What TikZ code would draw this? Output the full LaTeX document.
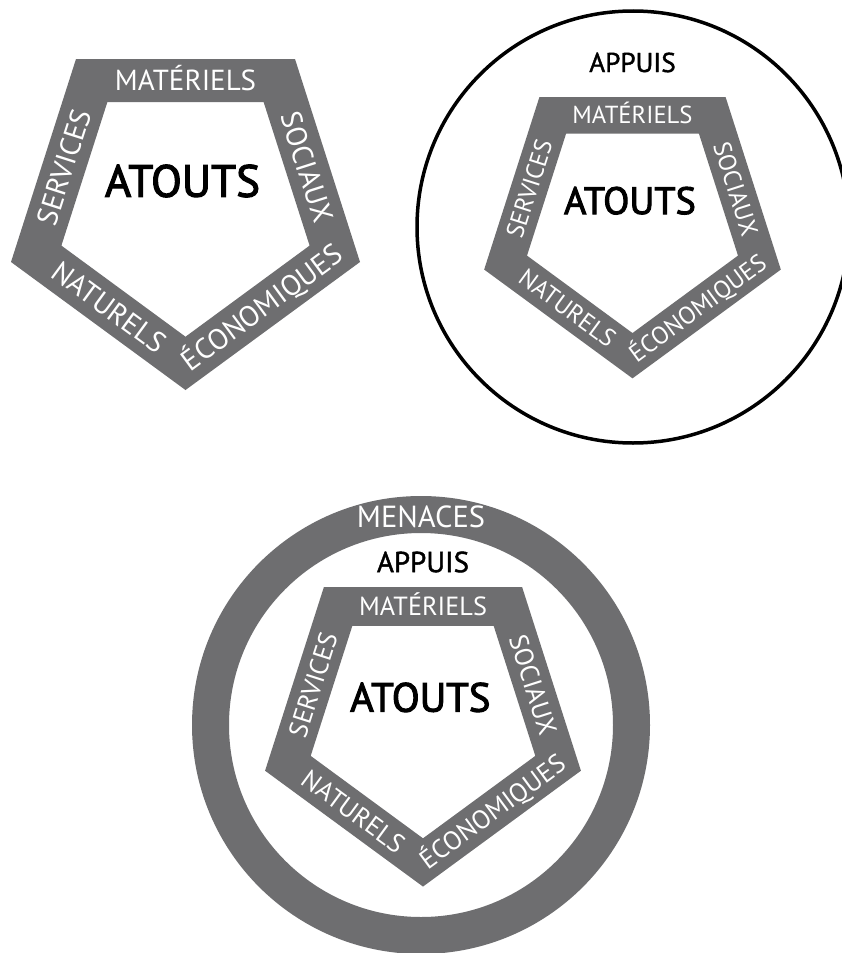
\documentclass[tikz,border=0pt]{standalone}
\usepackage{fontspec}
\setmainfont{PT Sans}
\newfontfamily\atoutsfont[FakeBold=2.5]{PT Sans}
\newfontfamily\appuisfont[FakeBold=1.5]{PT Sans}
\definecolor{band}{RGB}{110,110,112}
\tikzset{
  lbl/.style={text=white, font=\fontsize{29}{29}\selectfont, text height=20.3pt, text depth=0pt, inner sep=0pt},
  bigtxt/.style={text=black, font=\atoutsfont\fontsize{45}{45}\selectfont, text height=31.5pt, text depth=0pt, inner sep=0pt},
  midtxt/.style={text=black, font=\appuisfont\fontsize{32}{32}\selectfont, text height=22.4pt, text depth=0pt, inner sep=0pt},
  pentband/.style={fill=band, even odd rule},
}
\newcommand\atoutspent[1]{%
  \fill[pentband] (-109.5,0) -- (109.5,0) -- (174.5,203) -- (0,331) -- (-174.5,203) -- cycle
     (-78.1,43) -- (78.1,43) -- (124.1,186.6) -- (0,277.7) -- (-124.1,186.6) -- cycle;
  \node[lbl] (#1mat) at (0,21.5) {MATÉRIELS};
  \node[lbl,rotate=72.25] (#1ser) at (-121.55,108.15) {SERVICES};
  \node[lbl,rotate=-72.25] (#1soc) at (121.55,108.15) {SOCIAUX};
  \node[lbl,rotate=-36.26] (#1nat) at (-76.5,248.2) {NATURELS};
  \node[lbl,rotate=36.26] (#1eco) at (76.5,248.2) {ÉCONOMIQUES};
  \node[bigtxt] (#1atouts) at (-3,122) {ATOUTS};
}
\begin{document}
\begin{tikzpicture}[x=1pt,y=-1pt]
  \fill[white] (0,0) rectangle (841,953);
  \useasboundingbox (0,0) rectangle (841,953);
  % first pentagon
  \begin{scope}[shift={(185.5,59)}]
    \atoutspent{a}
  \end{scope}
  % second: circle + pentagon
  \draw[line width=3.5pt] (633,227) circle[radius=216];
  \begin{scope}[shift={(632.5,97)},scale=0.85,transform shape]
    \atoutspent{b}
    \node[midtxt] (bappuis) at (0,-40.6) {APPUIS};
  \end{scope}
  % third: ring + pentagon
  \draw[band,line width=37pt] (421,725) circle[radius=210.5];
  \node[lbl,font=\fontsize{30.5}{30.5}\selectfont] (menaces) at (421,517) {MENACES};
  \begin{scope}[shift={(423,587)},scale=0.905,transform shape]
    \atoutspent{c}
    \node[midtxt] (cappuis) at (0,-27.6) {APPUIS};
  \end{scope}
\end{tikzpicture}
\end{document}
